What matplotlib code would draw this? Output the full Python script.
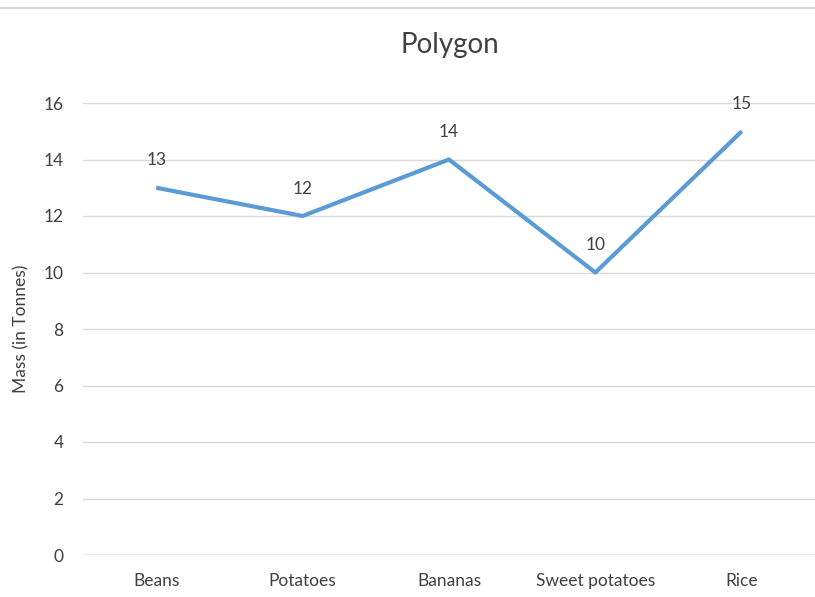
import matplotlib.pyplot as plt
from matplotlib.lines import Line2D

categorias = ['Beans', 'Potatoes', 'Bananas', 'Sweet potatoes', 'Rice']
masas = [13, 12, 14, 10, 15]
ticks_y = [0, 2, 4, 6, 8, 10, 12, 14, 16]

plt.rcParams['font.family'] = ['Lato', 'DejaVu Sans']
gris_texto = '#404040'

fig = plt.figure(figsize=(8.15, 5.97), dpi=100)
ax = fig.add_axes([83 / 815, 1 - 555 / 597, 1 - 83 / 815, (555 - 103) / 597])

x = list(range(len(categorias)))
ax.plot(x, masas, color='#5B9BD5', lw=3, solid_capstyle='butt', zorder=3)
for xi, v in zip(x, masas):
    ax.annotate(str(v), (xi, v), xytext=(0, 14), textcoords='offset points',
                ha='center', va='bottom', fontsize=12.5, color=gris_texto)

ax.set_xlim(-0.5, len(categorias) - 0.5)
ax.set_ylim(0, 16)
ax.set_yticks(ticks_y)
ax.set_xticks(x)
ax.set_xticklabels(categorias)
ax.tick_params(length=0, labelsize=12.5, labelcolor=gris_texto, pad=13)
ax.tick_params(axis='y', pad=14)
ax.grid(axis='y', color='#D9D9D9', lw=1)
ax.set_axisbelow(True)
for s in ax.spines.values():
    s.set_visible(False)
ax.axhline(0, color='#BFBFBF', lw=1)

ax.set_ylabel('Mass (in Tonnes)', fontsize=12.5, color=gris_texto, labelpad=10)
fig.text(450 / 815, 1 - 45 / 597, 'Polygon', ha='center', va='center',
         fontsize=20, color=gris_texto)

# borde superior del gráfico
fig.add_artist(Line2D([0, 1], [1 - 8 / 597, 1 - 8 / 597], color='#D0D0D0', lw=1.2))

fig.savefig('out.png', dpi=100)
